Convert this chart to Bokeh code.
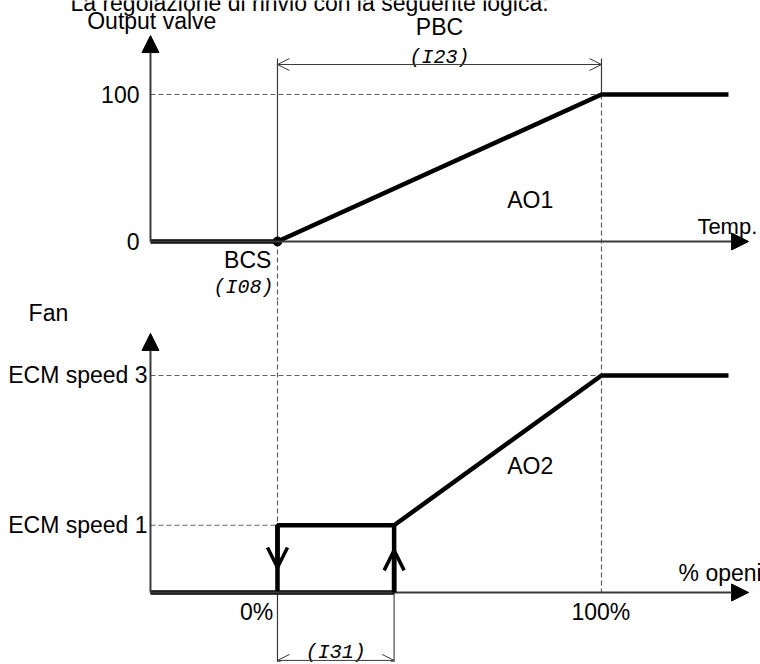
from bokeh.plotting import figure
from bokeh.layouts import column
from bokeh.models import Range1d, Arrow, NormalHead, OpenHead
from bokeh.core.properties import value
from bokeh.embed import file_html
from bokeh.resources import INLINE

# ---------------- data ----------------
ax_start = -39.2      # left end of the horizontal axes (% opening units)
ax_end = 145.4        # arrow tip of the horizontal axes
flat_end = 139.2      # end of the plotted curves
bcs = 0               # BCS set point (0 %)
pbc = 100             # end of proportional band (100 %)
hyst = 36             # I31 fan start offset

valve_x = [ax_start, bcs, pbc, flat_end]
valve_y = [0, 0, 100, 100]
valve_ticks = [0, 100]
valve_tick_labels = ["0", "100"]

fan_levels = [31, 100]
fan_labels = ["ECM speed 1", "ECM speed 3"]
fan_off_x = [ax_start, hyst]
fan_off_y = [0, 0]
fan_rect_x = [bcs, bcs, hyst, hyst]
fan_rect_y = [0, 31, 31, 0]
fan_ramp_x = [hyst, pbc, flat_end]
fan_ramp_y = [31, 100, 100]
pct_ticks = [0, 100]
pct_labels = ["0%", "100%"]

FONT = value("Liberation Sans")
SEG = value("Liberation Mono")
AX = "#3a3a3a"
DASH = "#606060"
FS = "23px"

X_RANGE = (-85.49, 149.08)


def base(h, y0, y1):
    p = figure(width=760, height=h, output_backend="svg", toolbar_location=None,
               x_range=Range1d(*X_RANGE), y_range=Range1d(y0, y1), min_border=0,
               x_axis_type=None, y_axis_type=None)
    p.grid.visible = False
    p.outline_line_color = None
    p.background_fill_color = "white"
    p.border_fill_color = "white"
    return p


# ---------------- top panel: output valve ----------------
Y1_LO, Y1_HI = -40.14, 163.95
p1 = base(300, Y1_LO, Y1_HI)
dim_top = 124.5
dim_y = 120.4
ytop1 = 140.1

# title (partly cut at the top, as in the source)
p1.text(x=[-63.9], y=[162.0], text=["La regolazione di rinvio con la seguente logica:"],
        text_font=FONT, text_font_size=FS, text_align="left", text_baseline="alphabetic")

# guide lines
p1.line([ax_start, pbc], [100, 100], line_color=DASH, line_dash="5 3", line_width=1.2)
p1.line([bcs, bcs], [dim_top, 0], line_color=AX, line_width=1.2)
p1.line([bcs, bcs], [0, Y1_LO], line_color=DASH, line_dash="5 3", line_width=1.2)
p1.line([pbc, pbc], [dim_top, 100], line_color=AX, line_width=1.2)
p1.line([pbc, pbc], [100, Y1_LO], line_color=DASH, line_dash="5 3", line_width=1.2)

# axes
p1.add_layout(Arrow(end=NormalHead(size=17, fill_color="black", line_color="black"),
                    x_start=ax_start, y_start=0, x_end=ax_end, y_end=0,
                    line_color=AX, line_width=2))
p1.add_layout(Arrow(end=NormalHead(size=17, fill_color="black", line_color="black"),
                    x_start=ax_start, y_start=0, x_end=ax_start, y_end=ytop1,
                    line_color=AX, line_width=2))

# PBC dimension
p1.add_layout(Arrow(start=OpenHead(size=12, line_color=AX, line_width=1),
                    end=OpenHead(size=12, line_color=AX, line_width=1),
                    x_start=bcs, y_start=dim_y, x_end=pbc, y_end=dim_y,
                    line_color=AX, line_width=1))

# curve
p1.line(valve_x, valve_y, line_color="black", line_width=4.5)
p1.scatter([bcs], [0], size=9, color="black")

# labels
p1.text(x=[ax_start - 3.4] * 2, y=valve_ticks, text=valve_tick_labels, text_font=FONT,
        text_font_size=FS, text_align="right", text_baseline="middle")
p1.text(x=[-38.8], y=[149.7], text=["Output valve"], text_font=FONT,
        text_font_size=FS, text_align="center", text_baseline="middle")
p1.text(x=[129.6], y=[10.2], text=["Temp."], text_font=FONT,
        text_font_size="22px", text_align="left", text_baseline="alphabetic")
p1.text(x=[78], y=[27.9], text=["AO1"], text_font=FONT,
        text_font_size=FS, text_align="center", text_baseline="middle")
p1.text(x=[50], y=[145.6], text=["PBC"], text_font=FONT,
        text_font_size=FS, text_align="center", text_baseline="middle")
p1.text(x=[50], y=[125.2], text=["(I23)"], text_font=SEG, text_font_style="italic",
        text_font_size="20px", text_align="center", text_baseline="middle")
p1.text(x=[-1.9], y=[-12.6], text=["BCS"], text_font=FONT,
        text_font_size=FS, text_align="right", text_baseline="middle")
p1.text(x=[-1.2], y=[-31.0], text=["(I08)"], text_font=SEG, text_font_style="italic",
        text_font_size="20px", text_align="right", text_baseline="middle")

# ---------------- bottom panel: fan ----------------
Y2_LO, Y2_HI = -32.26, 134.56
p2 = base(362, Y2_LO, Y2_HI)
ytop2 = 119.4
dim2_y = -31.3

p2.line([ax_start, pbc], [100, 100], line_color=DASH, line_dash="5 3", line_width=1.2)
p2.line([ax_start, bcs], [31, 31], line_color=DASH, line_dash="5 3", line_width=1.2)
p2.line([bcs, bcs], [Y2_HI, 31], line_color=DASH, line_dash="5 3", line_width=1.2)
p2.line([pbc, pbc], [Y2_HI, 0], line_color=DASH, line_dash="5 3", line_width=1.2)
p2.line([bcs, bcs], [0, Y2_LO], line_color=AX, line_width=1.2)
p2.line([hyst, hyst], [0, Y2_LO], line_color="#707070", line_width=1.5)

p2.add_layout(Arrow(end=NormalHead(size=17, fill_color="black", line_color="black"),
                    x_start=ax_start, y_start=0, x_end=ax_end, y_end=0,
                    line_color=AX, line_width=2))
p2.add_layout(Arrow(end=NormalHead(size=17, fill_color="black", line_color="black"),
                    x_start=ax_start, y_start=0, x_end=ax_start, y_end=ytop2,
                    line_color=AX, line_width=2))

# I31 dimension
p2.add_layout(Arrow(start=OpenHead(size=12, line_color=AX, line_width=1),
                    end=OpenHead(size=12, line_color=AX, line_width=1),
                    x_start=bcs, y_start=dim2_y, x_end=hyst, y_end=dim2_y,
                    line_color=AX, line_width=1))

# curve
p2.line(fan_off_x, fan_off_y, line_color="black", line_width=4.5)
p2.line(fan_rect_x, fan_rect_y, line_color="black", line_width=4.5)
p2.line(fan_ramp_x, fan_ramp_y, line_color="black", line_width=4.5)

# hysteresis direction heads
p2.add_layout(Arrow(end=OpenHead(size=20, line_color="black", line_width=3.5),
                    x_start=bcs, y_start=31, x_end=bcs, y_end=11.5,
                    line_color="black", line_width=4.5))
p2.add_layout(Arrow(end=OpenHead(size=20, line_color="black", line_width=3.5),
                    x_start=hyst, y_start=0, x_end=hyst, y_end=19.4,
                    line_color="black", line_width=4.5))

# labels
p2.text(x=[ax_start - 0.9] * 2, y=fan_levels, text=fan_labels, text_font=FONT,
        text_font_size=FS, text_align="right", text_baseline="middle")
p2.text(x=[-70.7], y=[129], text=["Fan"], text_font=FONT,
        text_font_size=FS, text_align="center", text_baseline="middle")
p2.text(x=[-1.3], y=[-9], text=[pct_labels[0]], text_font=FONT,
        text_font_size=FS, text_align="right", text_baseline="middle")
p2.text(x=[99.8], y=[-9], text=[pct_labels[1]], text_font=FONT,
        text_font_size=FS, text_align="center", text_baseline="middle")
p2.text(x=[123.8], y=[9.2], text=["% openi"], text_font=FONT,
        text_font_size=FS, text_align="left", text_baseline="alphabetic")
p2.text(x=[78], y=[58.5], text=["AO2"], text_font=FONT,
        text_font_size=FS, text_align="center", text_baseline="middle")
p2.text(x=[hyst / 2], y=[-27.5], text=["(I31)"], text_font=SEG, text_font_style="italic",
        text_font_size="20px", text_align="center", text_baseline="middle")

layout = column(p1, p2, spacing=0)
open("out.html", "w").write(file_html(layout, INLINE))
